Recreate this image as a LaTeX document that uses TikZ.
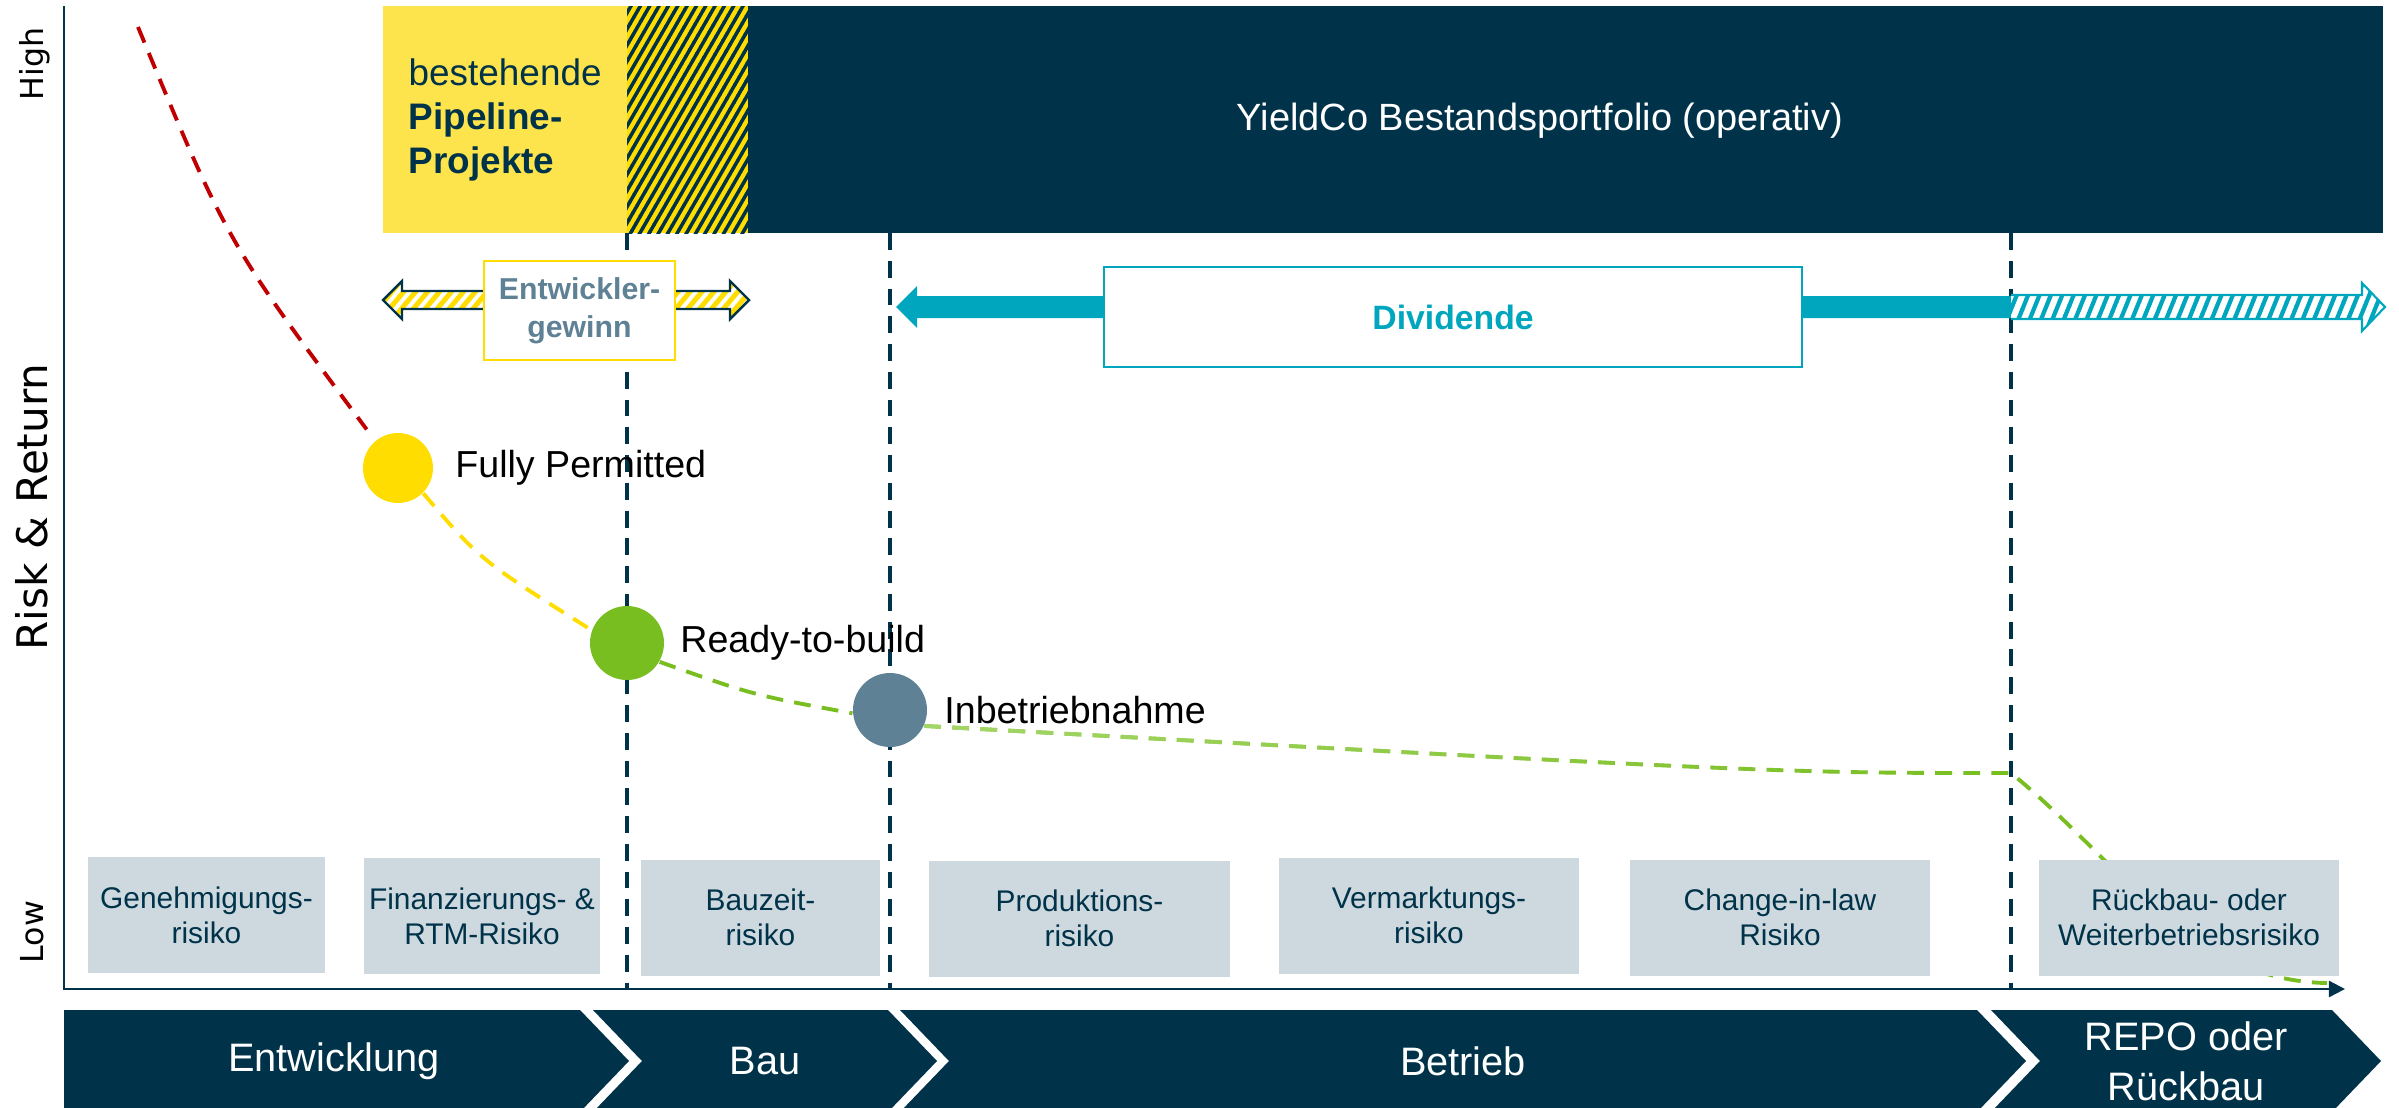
\documentclass[tikz,border=0pt]{standalone}
\usepackage{fontspec}
\setmainfont{Liberation Sans}
\newfontfamily\axisfont{DejaVu Sans}
\usetikzlibrary{arrows.meta,positioning,patterns.meta,fadings}

\definecolor{navy}{RGB}{0,51,73}
\definecolor{pipeyellow}{RGB}{253,228,77}
\definecolor{gold}{RGB}{255,221,0}
\definecolor{divteal}{RGB}{0,166,190}
\definecolor{slate}{RGB}{95,129,149}
\definecolor{leafgreen}{RGB}{120,190,32}
\definecolor{palegreen}{RGB}{165,214,105}
\definecolor{devred}{RGB}{192,0,0}
\definecolor{riskgray}{RGB}{205,216,223}

\tikzdeclarepattern{
  name=stripes,
  parameters={\stripesize,\stripeangle,\stripewidth},
  bounding box={(-.1pt,-.1pt) and (\stripesize+.1pt,\stripesize+.1pt)},
  tile size={(\stripesize,\stripesize)},
  tile transformation={rotate=\stripeangle},
  defaults={
    size/.store in=\stripesize,size=3pt,
    angle/.store in=\stripeangle,angle=45,
    line width/.store in=\stripewidth,line width=1pt
  },
  code={
    \draw[line width=\stripewidth] (-.1pt,\stripesize/2) -- (\stripesize+.1pt,\stripesize/2);
  }
}

\tikzfading[name=palestart, left color=transparent!0, middle color=transparent!100, right color=transparent!100]

\tikzset{
  phase/.style={navy, line width=1pt, dash pattern=on 4.8pt off 3.1pt},
  riskcurve/.style={line width=1.1pt, dash pattern=on 4.8pt off 3.2pt},
  milestone/.style={circle, inner sep=0pt, minimum size=#1},
  milestone/.default=0.74cm,
  mslabel/.style={inner sep=0pt, font=\fontsize{10.7}{12}\selectfont},
  risk/.style={fill=riskgray, text=navy, align=center, inner sep=0pt,
    minimum height=1.16cm, font=\fontsize{8.5}{10}\selectfont},
  stage/.style={text=white, align=center, inner sep=0pt, font=\fontsize{11.3}{14.2}\selectfont},
  axislabel/.style={rotate=90, inner sep=0pt, font=\axisfont\fontsize{9}{10}\selectfont}
}

\begin{document}
\begin{tikzpicture}
    \useasboundingbox (0,0) rectangle (23.99,11.07);
    %portfolio bars
    \fill[pipeyellow] (3.83,8.74) rectangle (6.27,11.01);
    \fill[gold, postaction={pattern={stripes[size=2.3pt,angle=60,line width=1pt]}, pattern color=navy}]
        (6.27,8.74) rectangle (7.48,11.01);
    \fill[navy] (7.48,8.74) rectangle (23.83,11.01);
    \node[anchor=west, align=left, inner sep=0pt, text=navy, font=\fontsize{10.5}{12.5}\selectfont]
        (pipeline) at (4.08,9.87) {bestehende\\\textbf{Pipeline-}\\\textbf{Projekte}};
    \node[text=white, inner sep=0pt, font=\fontsize{10.8}{13}\selectfont]
        (yieldco) at (15.40,9.86) {YieldCo Bestandsportfolio (operativ)};
    %phase borders
    \foreach \x in {6.27,8.90,20.11}
        {%
            \draw[phase] (\x,8.74) -- (\x,1.18);
        }
    %developer gain
    \draw[navy, line width=0.7pt, preaction={fill=white},
          pattern={stripes[size=2.6pt,angle=50,line width=1.4pt]}, pattern color=gold]
        (3.83,8.07) -- (4.02,8.26) -- (4.02,8.16) -- (7.30,8.16) -- (7.30,8.26) -- (7.49,8.07)
        -- (7.30,7.88) -- (7.30,7.98) -- (4.02,7.98) -- (4.02,7.88) -- cycle;
    \node[draw=gold, line width=0.8pt, fill=white, minimum width=1.91cm, minimum height=0.99cm,
          align=center, inner sep=0pt, text=slate, font=\bfseries\fontsize{8.6}{10.8}\selectfont]
        (gain) at (5.795,7.965) {Entwickler-\\gewinn};
    %dividend
    \fill[divteal] (8.96,8.00) -- (9.17,8.21) -- (9.17,8.11) -- (20.11,8.11)
        -- (20.11,7.89) -- (9.17,7.89) -- (9.17,7.79) -- cycle;
    \path[preaction={fill=white}, pattern={stripes[size=3pt,angle=68,line width=1.2pt]}, pattern color=divteal]
        (20.11,8.12) -- (23.62,8.12) -- (23.62,8.24) -- (23.85,8.00) -- (23.62,7.76) -- (23.62,7.88) -- (20.11,7.88) -- cycle;
    \draw[divteal, line width=0.6pt]
        (20.11,8.12) -- (23.62,8.12) -- (23.62,8.24) -- (23.85,8.00) -- (23.62,7.76) -- (23.62,7.88) -- (20.11,7.88);
    \node[draw=divteal, line width=0.7pt, fill=white, minimum width=6.98cm, minimum height=1.0cm,
          inner sep=0pt, text=divteal, font=\bfseries\fontsize{9.6}{11}\selectfont]
        (dividend) at (14.53,7.90) {Dividende};
    %milestones
    \node[milestone=0.70cm, fill=gold] (fp) at (3.98,6.39) {};
    \node[milestone, fill=leafgreen] (rtb) at (6.27,4.64) {};
    \node[milestone, fill=slate] (ibn) at (8.90,3.97) {};
    \node[mslabel, right=0.21cm of fp] (fplabel) {Fully Permitted};
    \node[mslabel, right=0.15cm of rtb] (rtblabel) {Ready-to-build};
    \node[mslabel, right=0.16cm of ibn] (ibnlabel) {Inbetriebnahme};
    %risk curve
    \coordinate (devstart) at (1.38,10.80);
    \coordinate (opend) at (20.11,3.34);
    \coordinate (curveend) at (23.27,1.24);
    \draw[riskcurve, devred, shorten >=4pt] (devstart) .. controls (2.27,8.65) .. (fp.130);
    \draw[riskcurve, gold] (fp.-45) .. controls (4.80,5.47) .. (rtb.160);
    \draw[riskcurve, leafgreen] (rtb.-30) .. controls (7.53,4.12) .. (ibn.185);
    \draw[riskcurve, leafgreen] (ibn.-25) .. controls (17.8,3.34) .. (opend)
        .. controls (21.2,2.45) and (21.9,1.26) .. (curveend);
    \draw[riskcurve, palegreen, path fading=palestart] (ibn.-25) .. controls (17.8,3.34) .. (opend);
    %risks per phase
    \foreach \x/\y/\w/\txt [count=\i] in {
            2.065/1.92/2.37/{Genehmigungs-\\risiko},
            4.82/1.91/2.36/{Finanzierungs- \&\\RTM-Risiko},
            7.605/1.895/2.39/{Bauzeit-\\risiko},
            10.795/1.885/3.01/{Produktions-\\risiko},
            14.29/1.915/3.00/{Vermarktungs-\\risiko},
            17.80/1.895/3.00/{Change-in-law\\Risiko},
            21.89/1.895/3.00/{Rückbau- oder\\Weiterbetriebsrisiko}}
        {%
            \node[risk, minimum width=\w cm] (risk\i) at (\x,\y) {\txt};
        }
    %draw axis
    \draw[navy, line width=0.65pt, -{Triangle[length=4.6pt,width=4.6pt]}]
        (0.64,11.01) -- (0.64,1.18) -- (23.45,1.18);
    \node[axislabel] (high) at (0.35,10.43) {High};
    \node[axislabel] (low) at (0.32,1.75) {Low};
    \node[axislabel, font=\axisfont\fontsize{12}{14}\selectfont] (riskreturn) at (0.32,6.00) {Risk \& Return};
    %phases
    \foreach \l/\r/\n/\c/\txt [count=\i] in {
            0.64/5.80/0/3.34/Entwicklung,
            5.93/8.88/0.49/7.65/Bau,
            9.00/19.77/0.49/14.63/Betrieb,
            19.91/23.32/0.49/21.86/{REPO oder\\Rückbau}}
        {%
            \fill[navy] (\l,0.97) -- (\r,0.97) -- ({\r+0.49},0.46) -- (\r,-0.05)
                -- (\l,-0.05) -- ({\l+\n},0.46) -- cycle;
            \node[stage] (stage\i) at (\c,0.46) {\txt};
        }
\end{tikzpicture}
\end{document}
